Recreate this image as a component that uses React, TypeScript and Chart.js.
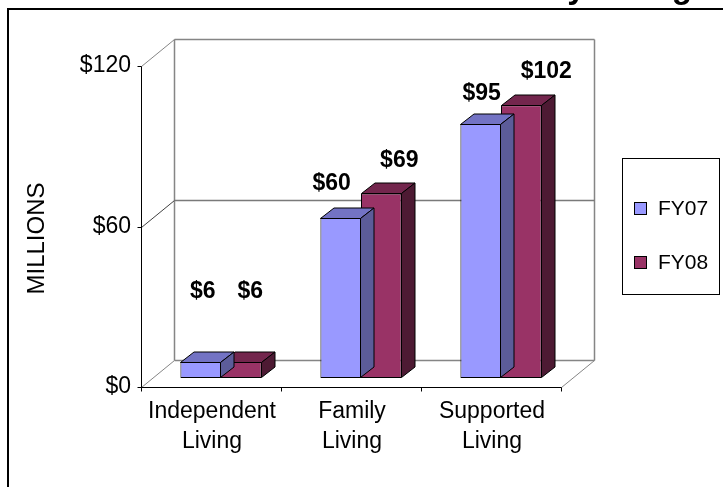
import React, { useEffect, useRef } from "react";
import { Chart, registerables } from "chart.js";

Chart.register(...registerables);

// ---- data ----
const categories = [["Independent", "Living"], ["Family", "Living"], ["Supported", "Living"]];
const seriesNames = ["FY07", "FY08"];
const fy07 = [6, 60, 95];
const fy08 = [6, 69, 102];
const yMin = 0;
const yMax = 120;
const yStep = 60;
const axisTitle = "MILLIONS";
const chartTitle = "by Living";

// ---- styling ----
const FONT = "'Liberation Sans', Arial, Helvetica, sans-serif";
const frontColors = ["#9999FF", "#993366"];
const topColors = ["#7373C4", "#73264D"];
const sideColors = ["#5C5C99", "#4D1A33"];

// 3D geometry (pixel offsets)
const FRONT = { dx: -10, dy: 9 }; // bar plane -> front (axis) plane
const DEPTH = { dx: 33, dy: -27 }; // front plane -> back wall
const BAR_DEPTH = { dx: 13.5, dy: -10.5 };
// label nudges per series / category, relative to bar front-top centre
const labelNudge = [
  [[2, -70], [-9, -34], [1, -30]],
  [[9, -70], [18, -33], [25, -33]],
];

const c = (v: number) => Math.round(v) + 0.5;

const threeD = {
  id: "threeD",
  beforeDatasetsDraw(chart: any) {
    const ctx = chart.ctx;
    const xs = chart.scales.x;
    const ys = chart.scales.y;
    const L = xs.left + FRONT.dx;
    const R = xs.right + FRONT.dx;
    const Y = (v: number) => ys.getPixelForValue(v) + FRONT.dy;
    const y0 = Y(yMin);
    const yT = Y(yMax);
    const line = (x1: number, y1: number, x2: number, y2: number) => {
      ctx.beginPath();
      ctx.moveTo(x1, y1);
      ctx.lineTo(x2, y2);
      ctx.stroke();
    };
    ctx.save();
    // walls / floor edges
    ctx.strokeStyle = "#858585";
    ctx.lineWidth = 1.5;
    const bl = c(L + DEPTH.dx), br = c(R + DEPTH.dx);
    const bt = c(yT + DEPTH.dy), bb = c(y0 + DEPTH.dy);
    line(bl, bt, br, bt);
    line(bl, bt, bl, bb);
    line(br, bt, br, bb);
    line(bl, bb, br, bb);
    ctx.lineWidth = 1;
    line(c(L), c(yT), bl, bt);
    line(c(L), c(y0), bl, bb);
    line(c(R), c(y0), br, bb);
    // gridlines
    for (let v = yMin + yStep; v < yMax; v += yStep) {
      const yy = Y(v);
      ctx.strokeStyle = "#404040";
      line(c(L), c(yy), bl, c(yy + DEPTH.dy));
      ctx.strokeStyle = "#7a7a7a";
      ctx.lineWidth = 1.5;
      line(bl, c(yy + DEPTH.dy), br, c(yy + DEPTH.dy));
      ctx.lineWidth = 1;
    }
    // axes
    ctx.strokeStyle = "#000";
    line(c(L), c(yT), c(L), c(y0));
    line(c(L), c(y0), c(R), c(y0));
    for (let v = yMin; v <= yMax; v += yStep) line(c(L) - 4, c(Y(v)), c(L), c(Y(v)));
    const n = categories.length;
    for (let i = 0; i <= n; i++) {
      const x = L + ((R - L) * i) / n;
      line(c(x), c(y0), c(x), c(y0) + 4);
    }
    ctx.restore();
  },
  afterDatasetDraw(chart: any, args: any) {
    const ctx = chart.ctx;
    const di = args.index;
    const meta = args.meta;
    ctx.save();
    ctx.strokeStyle = "#000";
    ctx.lineWidth = 1;
    ctx.lineJoin = "miter";
    meta.data.forEach((el: any) => {
      const p = el.getProps(["x", "y", "base", "width"], true);
      const l = Math.round(p.x - p.width / 2) + 0.5;
      const r = Math.round(p.x + p.width / 2) - 0.5;
      const t = Math.round(p.y) + 0.5;
      const b = Math.round(p.base) - 0.5;
      const dx = BAR_DEPTH.dx, dy = BAR_DEPTH.dy;
      // top
      ctx.beginPath();
      ctx.moveTo(l, t);
      ctx.lineTo(l + dx, t + dy);
      ctx.lineTo(r + dx, t + dy);
      ctx.lineTo(r, t);
      ctx.closePath();
      ctx.fillStyle = topColors[di];
      ctx.fill();
      ctx.stroke();
      // side
      ctx.beginPath();
      ctx.moveTo(r, t);
      ctx.lineTo(r + dx, t + dy);
      ctx.lineTo(r + dx, b + dy);
      ctx.lineTo(r, b);
      ctx.closePath();
      ctx.fillStyle = sideColors[di];
      ctx.fill();
      ctx.stroke();
    });
    ctx.restore();
  },
  afterDraw(chart: any) {
    const ctx = chart.ctx;
    const ys = chart.scales.y;
    ctx.save();
    // data labels
    ctx.fillStyle = "#000";
    ctx.font = `bold 23px ${FONT}`;
    ctx.textAlign = "center";
    ctx.textBaseline = "middle";
    chart.data.datasets.forEach((ds: any, di: number) => {
      const meta = chart.getDatasetMeta(di);
      meta.data.forEach((el: any, i: number) => {
        const p = el.getProps(["x", "y"], true);
        const [nx, ny] = labelNudge[di][i];
        ctx.fillText("$" + ds.data[i], p.x + nx, p.y + ny);
      });
    });
    // axis title
    ctx.font = `24px ${FONT}`;
    ctx.save();
    ctx.translate(37, (ys.top + ys.bottom) / 2 + 21);
    ctx.rotate(-Math.PI / 2);
    ctx.fillText(axisTitle, 0, 0);
    ctx.restore();
    // legend
    ctx.strokeStyle = "#000";
    ctx.lineWidth = 1;
    ctx.strokeRect(622.5, 158.5, 97, 136);
    ctx.font = `21px ${FONT}`;
    ctx.textAlign = "left";
    seriesNames.forEach((name, i) => {
      const cy = 209 + i * 54;
      ctx.fillStyle = frontColors[i];
      ctx.fillRect(634.5, cy - 6.5, 12, 12);
      ctx.strokeRect(634.5, cy - 6.5, 12, 12);
      ctx.fillStyle = "#000";
      ctx.fillText(name, 658, cy);
    });
    // cropped title (only descenders visible, as in the source)
    ctx.font = `bold 33px ${FONT}`;
    ctx.textBaseline = "alphabetic";
    ctx.textAlign = "left";
    ctx.fillText(chartTitle, 547, -2);
    // outer border
    ctx.fillStyle = "#000";
    ctx.fillRect(7, 8, 716, 2);
    ctx.fillRect(7, 8, 2, 479);
    ctx.restore();
  },
};

export default function App() {
  const ref = useRef<HTMLCanvasElement | null>(null);
  useEffect(() => {
    if (!ref.current) return;
    const chart = new Chart(ref.current, {
      type: "bar",
      data: {
        labels: categories as any,
        datasets: [fy07, fy08].map((d, i) => ({
          label: seriesNames[i],
          data: d,
          backgroundColor: frontColors[i],
          borderColor: "#000",
          borderWidth: 1,
          borderSkipped: false,
          categoryPercentage: 0.58,
          barPercentage: 1,
        })),
      },
      options: {
        animation: false,
        responsive: false,
        devicePixelRatio: 1,
        layout: { padding: { left: 51, right: 152, top: 57, bottom: 19 } },
        plugins: {
          legend: { display: false },
          tooltip: { enabled: false },
          title: { display: false },
        },
        scales: {
          x: {
            grid: { display: false, drawTicks: false },
            border: { display: false },
            ticks: {
              color: "#000",
              font: { family: FONT, size: 23, lineHeight: 30 / 23 },
              padding: 19,
              labelOffset: -9,
              maxRotation: 0,
              autoSkip: false,
            },
            afterFit: (s: any) => {
              s.height = 90;
            },
          },
          y: {
            min: yMin,
            max: yMax,
            grid: { display: false, drawTicks: false },
            border: { display: false },
            ticks: {
              stepSize: yStep,
              color: "#000",
              font: { family: FONT, size: 23 },
              padding: 20,
              labelOffset: 9,
              callback: (v: any) => "$" + v,
            },
            afterFit: (s: any) => {
              s.width = 100;
            },
          },
        },
      },
      plugins: [threeD],
    });
    return () => chart.destroy();
  }, []);
  return (
    <div style={{ position: "fixed", left: 0, top: 0, width: 723, height: 487, background: "#fff" }}>
      <canvas ref={ref} width={723} height={487} style={{ display: "block" }} />
    </div>
  );
}
